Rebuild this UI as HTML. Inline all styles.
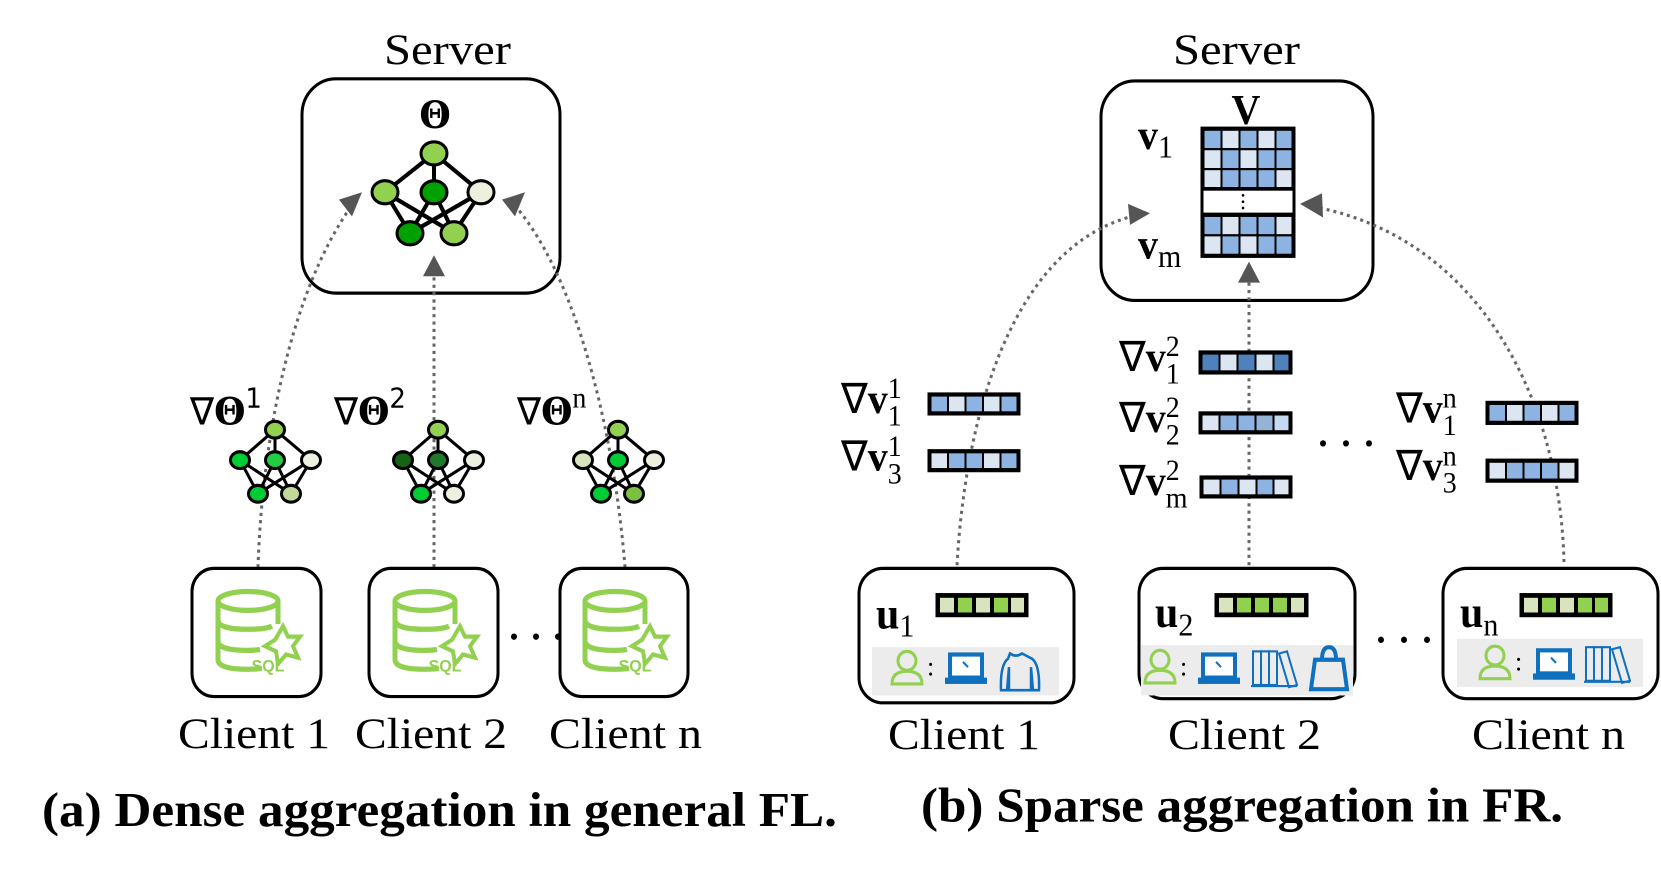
<!DOCTYPE html>
<html><head><meta charset="utf-8"><style>
html,body{margin:0;padding:0;background:#fff;}
svg{display:block}
.t{font-family:"Liberation Serif",serif;}
.m{font-family:"DejaVu Serif",serif;font-weight:bold;}
</style></head><body>
<svg width="1661" height="872" viewBox="0 0 1661 872" xmlns="http://www.w3.org/2000/svg">
<defs>
<g id="snet">
 <g stroke="#000" stroke-width="3" fill="none">
  <line x1="0" y1="-29" x2="-35" y2="0"/><line x1="0" y1="-29" x2="0" y2="0"/><line x1="0" y1="-29" x2="36" y2="0"/>
  <line x1="-35" y1="0" x2="-17" y2="32"/><line x1="-35" y1="0" x2="16" y2="32"/>
  <line x1="0" y1="0" x2="-17" y2="32"/><line x1="0" y1="0" x2="16" y2="32"/>
  <line x1="36" y1="0" x2="-17" y2="32"/><line x1="36" y1="0" x2="16" y2="32"/>
 </g>
</g>
<g id="sql" fill="none" stroke="#92d050" stroke-width="5">
 <ellipse cx="-8" cy="-28" rx="30" ry="9"/>
 <path d="M-38 -28 V28 Q-38 37 -8 37 Q0 37 6 36"/>
 <path d="M22 -28 V-6"/>
 <path d="M-38 -10 Q-38 -1 -8 -1 Q10 -1 16 -4"/>
 <path d="M-38 10 Q-38 19 -8 19 Q0 19 4 18"/>
 <path d="M27 -4 l5 10 12 0 -7 9 5 11 -12 -3 -8 9 -2 -12 -11 -5 10 -6z" stroke-width="4"/>
 <text x="12" y="39" font-family="Liberation Sans,sans-serif" font-weight="bold" font-size="16" fill="#92d050" stroke="none" text-anchor="middle">SQL</text>
</g>
<g id="user" fill="none" stroke="#92d050" stroke-width="3"><circle cx="0" cy="-8" r="9"/><path d="M-15 14 Q-15 2 0 2 Q15 2 15 14 Z"/></g>
<g id="laptop"><rect x="-16" y="-13" width="32" height="22" fill="#fff" stroke="#1070c0" stroke-width="4"/><rect x="-21" y="9" width="42" height="6" fill="#1070c0"/><path d="M-3 -6 l5 5" stroke="#1070c0" stroke-width="2"/></g>
<g id="books" fill="none" stroke="#1070c0" stroke-width="2"><rect x="-20" y="-16" width="8" height="32"/><rect x="-12" y="-16" width="8" height="32"/><rect x="-4" y="-16" width="8" height="32"/><path d="M6 -14 l8 -2 10 32 -8 2z"/><line x1="-22" y1="17" x2="24" y2="17"/></g>
</defs>
<g transform="scale(1,1.0506)">
<!-- ========== LEFT (a) ========== -->
<text x="384" y="61" class="t" font-size="41" textLength="127" lengthAdjust="spacingAndGlyphs">Server</text>
<rect x="302" y="75" width="258" height="204" rx="34" fill="#fff" stroke="#000" stroke-width="3"/>
<text x="435" y="122" class="m" font-size="36" text-anchor="middle">Θ</text>
<g stroke="#000" stroke-width="4">
 <line x1="434" y1="146" x2="385" y2="183"/><line x1="434" y1="146" x2="434" y2="183"/><line x1="434" y1="146" x2="481" y2="183"/>
 <line x1="385" y1="183" x2="410" y2="222"/><line x1="385" y1="183" x2="454" y2="222"/>
 <line x1="434" y1="183" x2="410" y2="222"/><line x1="434" y1="183" x2="454" y2="222"/>
 <line x1="481" y1="183" x2="410" y2="222"/><line x1="481" y1="183" x2="454" y2="222"/>
</g>
<g stroke="#000" stroke-width="3">
 <ellipse cx="434" cy="146" rx="13" ry="11" fill="#92d050"/>
 <ellipse cx="385" cy="183" rx="13" ry="11" fill="#92d050"/>
 <ellipse cx="434" cy="183" rx="13" ry="11" fill="#00a000"/>
 <ellipse cx="481" cy="183" rx="13" ry="11" fill="#ebf1de"/>
 <ellipse cx="410" cy="222" rx="13" ry="11" fill="#00a000"/>
 <ellipse cx="454" cy="222" rx="13" ry="11" fill="#92d050"/>
</g>
<g fill="none" stroke="#666" stroke-width="3" stroke-dasharray="3 4">
 <path d="M258 540 C 262 420, 290 280, 350 198"/>
 <path d="M434 540 V262"/>
 <path d="M625 540 C 615 420, 580 270, 517 198"/>
</g>
<polygon points="339,190 362,183 352,206" fill="#555"/>
<polygon points="434,243 423,263 445,263" fill="#555"/>
<polygon points="525,183 502,190 515,206" fill="#555"/>
<g transform="translate(275,438)"><use href="#snet"/>
 <g stroke="#000" stroke-width="3"><ellipse cx="0" cy="-29" rx="9.5" ry="8" fill="#92d050"/><ellipse cx="-35" cy="0" rx="9.5" ry="8" fill="#00cc33"/><ellipse cx="0" cy="0" rx="9.5" ry="8" fill="#22cc44"/><ellipse cx="36" cy="0" rx="9.5" ry="8" fill="#ebf1de"/><ellipse cx="-17" cy="32" rx="9.5" ry="8" fill="#00cc33"/><ellipse cx="16" cy="32" rx="9.5" ry="8" fill="#c4d79b"/></g></g>
<g transform="translate(438,438)"><use href="#snet"/>
 <g stroke="#000" stroke-width="3"><ellipse cx="0" cy="-29" rx="9.5" ry="8" fill="#92d050"/><ellipse cx="-35" cy="0" rx="9.5" ry="8" fill="#146414"/><ellipse cx="0" cy="0" rx="9.5" ry="8" fill="#1e7a2a"/><ellipse cx="36" cy="0" rx="9.5" ry="8" fill="#ebf1de"/><ellipse cx="-17" cy="32" rx="9.5" ry="8" fill="#00cc33"/><ellipse cx="16" cy="32" rx="9.5" ry="8" fill="#ebf1de"/></g></g>
<g transform="translate(618,438)"><use href="#snet"/>
 <g stroke="#000" stroke-width="3"><ellipse cx="0" cy="-29" rx="9.5" ry="8" fill="#92d050"/><ellipse cx="-35" cy="0" rx="9.5" ry="8" fill="#d7e4bd"/><ellipse cx="0" cy="0" rx="9.5" ry="8" fill="#00cc33"/><ellipse cx="36" cy="0" rx="9.5" ry="8" fill="#ebf1de"/><ellipse cx="-17" cy="32" rx="9.5" ry="8" fill="#00cc33"/><ellipse cx="16" cy="32" rx="9.5" ry="8" fill="#7cc040"/></g></g>
<text x="190" y="404" class="m" font-size="36"><tspan font-weight="normal" font-family="DejaVu Sans">∇</tspan>Θ<tspan dy="-16" font-size="26" font-weight="normal" font-family="DejaVu Sans">1</tspan></text>
<text x="334" y="404" class="m" font-size="36"><tspan font-weight="normal" font-family="DejaVu Sans">∇</tspan>Θ<tspan dy="-16" font-size="26" font-weight="normal" font-family="DejaVu Sans">2</tspan></text>
<text x="517" y="404" class="m" font-size="36"><tspan font-weight="normal" font-family="DejaVu Sans">∇</tspan>Θ<tspan dy="-16" font-size="28" font-weight="normal" font-family="Liberation Serif">n</tspan></text>
<rect x="192" y="541" width="129" height="122" rx="22" fill="#fff" stroke="#000" stroke-width="3"/>
<rect x="369" y="541" width="129" height="122" rx="22" fill="#fff" stroke="#000" stroke-width="3"/>
<rect x="560" y="541" width="128" height="122" rx="22" fill="#fff" stroke="#000" stroke-width="3"/>
<use href="#sql" x="256" y="600"/><use href="#sql" x="433" y="600"/><use href="#sql" x="623" y="600"/>
<g fill="#000"><circle cx="514" cy="606" r="3"/><circle cx="536" cy="606" r="3"/><circle cx="558" cy="606" r="3"/></g>
<g class="t" font-size="41" lengthAdjust="spacingAndGlyphs">
<text x="178" y="712" textLength="152" lengthAdjust="spacingAndGlyphs">Client 1</text>
<text x="355" y="712" textLength="152" lengthAdjust="spacingAndGlyphs">Client 2</text>
<text x="549" y="712" textLength="153" lengthAdjust="spacingAndGlyphs">Client n</text>
</g>
<text x="42" y="786" class="t" font-size="46" font-weight="bold" textLength="795" lengthAdjust="spacingAndGlyphs">(a) Dense aggregation in general FL.</text>

<!-- ========== RIGHT (b) ========== -->
<text x="1173" y="61" class="t" font-size="41" textLength="127" lengthAdjust="spacingAndGlyphs">Server</text>
<rect x="1101" y="77" width="272" height="209" rx="34" fill="#fff" stroke="#000" stroke-width="3"/>
<text x="1246" y="118" class="t" font-size="40" font-weight="bold" text-anchor="middle">V</text>
<text x="1138" y="142" class="t" font-size="40" font-weight="bold">v<tspan dy="8" font-size="30" font-weight="normal">1</tspan></text>
<text x="1138" y="246" class="t" font-size="40" font-weight="bold">v<tspan dy="8" font-size="30" font-weight="normal">m</tspan></text>
<g stroke="#000" stroke-width="3">
 <rect x="1202" y="122" width="92" height="58" fill="#fff"/>
 <rect x="1202" y="180" width="92" height="24" fill="#fff"/>
 <rect x="1202" y="204" width="92" height="40" fill="#fff"/>
</g>
<g stroke="#000" stroke-width="2">
 <rect x="1203.5" y="123.5" width="18" height="18.5" fill="#8db3e2"/><rect x="1221.5" y="123.5" width="18" height="18.5" fill="#dce6f2"/><rect x="1239.5" y="123.5" width="18" height="18.5" fill="#8db3e2"/><rect x="1257.5" y="123.5" width="18" height="18.5" fill="#dce6f2"/><rect x="1275.5" y="123.5" width="17" height="18.5" fill="#8db3e2"/>
 <rect x="1203.5" y="142" width="18" height="19" fill="#dce6f2"/><rect x="1221.5" y="142" width="18" height="19" fill="#8db3e2"/><rect x="1239.5" y="142" width="18" height="19" fill="#dce6f2"/><rect x="1257.5" y="142" width="18" height="19" fill="#8db3e2"/><rect x="1275.5" y="142" width="17" height="19" fill="#8db3e2"/>
 <rect x="1203.5" y="161" width="18" height="18" fill="#dce6f2"/><rect x="1221.5" y="161" width="18" height="18" fill="#8db3e2"/><rect x="1239.5" y="161" width="18" height="18" fill="#8db3e2"/><rect x="1257.5" y="161" width="18" height="18" fill="#8db3e2"/><rect x="1275.5" y="161" width="17" height="18" fill="#dce6f2"/>
 <rect x="1203.5" y="205.5" width="18" height="18.5" fill="#8db3e2"/><rect x="1221.5" y="205.5" width="18" height="18.5" fill="#dce6f2"/><rect x="1239.5" y="205.5" width="18" height="18.5" fill="#8db3e2"/><rect x="1257.5" y="205.5" width="18" height="18.5" fill="#8db3e2"/><rect x="1275.5" y="205.5" width="17" height="18.5" fill="#dce6f2"/>
 <rect x="1203.5" y="224" width="18" height="18.5" fill="#dce6f2"/><rect x="1221.5" y="224" width="18" height="18.5" fill="#8db3e2"/><rect x="1239.5" y="224" width="18" height="18.5" fill="#dce6f2"/><rect x="1257.5" y="224" width="18" height="18.5" fill="#8db3e2"/><rect x="1275.5" y="224" width="17" height="18.5" fill="#8db3e2"/>
</g>
<g fill="#000"><circle cx="1243" cy="186" r="1.3"/><circle cx="1243" cy="192" r="1.3"/><circle cx="1243" cy="198" r="1.3"/></g>
<g fill="none" stroke="#666" stroke-width="3" stroke-dasharray="3 4">
 <path d="M957 538 C 965 400, 1010 240, 1128 207"/>
 <path d="M1249 538 V268"/>
 <path d="M1564 535 C 1560 380, 1480 230, 1320 198"/>
</g>
<polygon points="1150,203 1128,194 1130,214" fill="#555"/>
<polygon points="1249,249 1238,269 1260,269" fill="#555"/>
<polygon points="1300,194 1322,184 1323,207" fill="#555"/>
<g stroke="#000" stroke-width="3">
 <rect x="929" y="375" width="90" height="19" fill="#fff"/>
 <rect x="929" y="429" width="90" height="19" fill="#fff"/>
 <rect x="1200" y="335" width="91" height="20" fill="#fff"/>
 <rect x="1200" y="393" width="91" height="19" fill="#fff"/>
 <rect x="1201" y="454" width="90" height="19" fill="#fff"/>
 <rect x="1487" y="383" width="90" height="20" fill="#fff"/>
 <rect x="1487" y="438" width="90" height="20" fill="#fff"/>
</g>
<g stroke="#000" stroke-width="2">
 <rect x="930.5" y="376.5" width="17.5" height="16" fill="#8db3e2"/><rect x="948" y="376.5" width="17.5" height="16" fill="#dce6f2"/><rect x="965.5" y="376.5" width="17.5" height="16" fill="#8db3e2"/><rect x="983" y="376.5" width="17.5" height="16" fill="#dce6f2"/><rect x="1000.5" y="376.5" width="17" height="16" fill="#8db3e2"/>
 <rect x="930.5" y="430.5" width="17.5" height="16" fill="#dce6f2"/><rect x="948" y="430.5" width="17.5" height="16" fill="#8db3e2"/><rect x="965.5" y="430.5" width="17.5" height="16" fill="#8db3e2"/><rect x="983" y="430.5" width="17.5" height="16" fill="#dce6f2"/><rect x="1000.5" y="430.5" width="17" height="16" fill="#8db3e2"/>
 <rect x="1201.5" y="336.5" width="18" height="17" fill="#4f81bd"/><rect x="1219.5" y="336.5" width="18" height="17" fill="#dce6f2"/><rect x="1237.5" y="336.5" width="18" height="17" fill="#4f81bd"/><rect x="1255.5" y="336.5" width="18" height="17" fill="#dce6f2"/><rect x="1273.5" y="336.5" width="16" height="17" fill="#4f81bd"/>
 <rect x="1201.5" y="394.5" width="18" height="16" fill="#dce6f2"/><rect x="1219.5" y="394.5" width="18" height="16" fill="#8db3e2"/><rect x="1237.5" y="394.5" width="18" height="16" fill="#8db3e2"/><rect x="1255.5" y="394.5" width="18" height="16" fill="#95b3d7"/><rect x="1273.5" y="394.5" width="16" height="16" fill="#c5d9f1"/>
 <rect x="1202.5" y="455.5" width="18" height="16" fill="#dce6f2"/><rect x="1220.5" y="455.5" width="18" height="16" fill="#8db3e2"/><rect x="1238.5" y="455.5" width="18" height="16" fill="#dce6f2"/><rect x="1256.5" y="455.5" width="17" height="16" fill="#8db3e2"/><rect x="1273.5" y="455.5" width="16" height="16" fill="#dce6f2"/>
 <rect x="1488.5" y="384.5" width="17.5" height="17" fill="#8db3e2"/><rect x="1506" y="384.5" width="17.5" height="17" fill="#dce6f2"/><rect x="1523.5" y="384.5" width="17.5" height="17" fill="#8db3e2"/><rect x="1541" y="384.5" width="17.5" height="17" fill="#dce6f2"/><rect x="1558.5" y="384.5" width="17" height="17" fill="#8db3e2"/>
 <rect x="1488.5" y="439.5" width="17.5" height="17" fill="#dce6f2"/><rect x="1506" y="439.5" width="17.5" height="17" fill="#8db3e2"/><rect x="1523.5" y="439.5" width="17.5" height="17" fill="#8db3e2"/><rect x="1541" y="439.5" width="17.5" height="17" fill="#8db3e2"/><rect x="1558.5" y="439.5" width="17" height="17" fill="#dce6f2"/>
</g>
<g class="t" font-size="40">
 <text x="841" y="393"><tspan font-family="DejaVu Sans">∇</tspan><tspan font-weight="bold">v</tspan><tspan font-size="28" dy="-14">1</tspan><tspan font-size="28" dx="-14" dy="26">1</tspan></text>
 <text x="841" y="448"><tspan font-family="DejaVu Sans">∇</tspan><tspan font-weight="bold">v</tspan><tspan font-size="28" dy="-14">1</tspan><tspan font-size="28" dx="-14" dy="26">3</tspan></text>
 <text x="1119" y="353"><tspan font-family="DejaVu Sans">∇</tspan><tspan font-weight="bold">v</tspan><tspan font-size="28" dy="-14">2</tspan><tspan font-size="28" dx="-14" dy="26">1</tspan></text>
 <text x="1119" y="411"><tspan font-family="DejaVu Sans">∇</tspan><tspan font-weight="bold">v</tspan><tspan font-size="28" dy="-14">2</tspan><tspan font-size="28" dx="-14" dy="26">2</tspan></text>
 <text x="1119" y="471"><tspan font-family="DejaVu Sans">∇</tspan><tspan font-weight="bold">v</tspan><tspan font-size="28" dy="-14">2</tspan><tspan font-size="28" dx="-14" dy="26">m</tspan></text>
 <text x="1396" y="402"><tspan font-family="DejaVu Sans">∇</tspan><tspan font-weight="bold">v</tspan><tspan font-size="28" dy="-14">n</tspan><tspan font-size="28" dx="-14" dy="26">1</tspan></text>
 <text x="1396" y="457"><tspan font-family="DejaVu Sans">∇</tspan><tspan font-weight="bold">v</tspan><tspan font-size="28" dy="-14">n</tspan><tspan font-size="28" dx="-14" dy="26">3</tspan></text>
</g>
<g fill="#000"><circle cx="1323" cy="422" r="3"/><circle cx="1346" cy="422" r="3"/><circle cx="1369" cy="422" r="3"/>
<circle cx="1381" cy="609" r="3"/><circle cx="1404" cy="609" r="3"/><circle cx="1427" cy="609" r="3"/></g>
<rect x="859" y="541" width="215" height="128" rx="24" fill="#fff" stroke="#000" stroke-width="3"/>
<rect x="1139" y="541" width="216" height="124" rx="24" fill="#fff" stroke="#000" stroke-width="3"/>
<rect x="1443" y="541" width="215" height="124" rx="24" fill="#fff" stroke="#000" stroke-width="3"/>
<rect x="872" y="616" width="187" height="46" fill="#ececec"/>
<rect x="1141" y="614" width="212" height="48" fill="#ececec"/>
<rect x="1457" y="608" width="186" height="46" fill="#ececec"/>
<g class="t" font-size="42" font-weight="bold">
 <text x="876" y="598">u<tspan font-size="30" font-weight="normal" dy="8">1</tspan></text>
 <text x="1155" y="597">u<tspan font-size="30" font-weight="normal" dy="8">2</tspan></text>
 <text x="1460" y="597">u<tspan font-size="30" font-weight="normal" dy="8">n</tspan></text>
</g>
<g stroke="#000" stroke-width="3">
 <rect x="937" y="566" width="90" height="20" fill="#000"/>
 <rect x="1216" y="566" width="91" height="20" fill="#000"/>
 <rect x="1521" y="566" width="90" height="20" fill="#000"/>
</g>
<g>
 <rect x="940" y="569" width="14" height="14" fill="#d7e4bd"/><rect x="958" y="569" width="14" height="14" fill="#92d050"/><rect x="976" y="569" width="14" height="14" fill="#d7e4bd"/><rect x="994" y="569" width="14" height="14" fill="#92d050"/><rect x="1011" y="569" width="13" height="14" fill="#d7e4bd"/>
 <rect x="1219" y="569" width="14" height="14" fill="#d7e4bd"/><rect x="1237" y="569" width="14" height="14" fill="#92d050"/><rect x="1255" y="569" width="14" height="14" fill="#92d050"/><rect x="1273" y="569" width="14" height="14" fill="#92d050"/><rect x="1291" y="569" width="13" height="14" fill="#d7e4bd"/>
 <rect x="1524" y="569" width="14" height="14" fill="#d7e4bd"/><rect x="1542" y="569" width="14" height="14" fill="#92d050"/><rect x="1560" y="569" width="14" height="14" fill="#d7e4bd"/><rect x="1578" y="569" width="14" height="14" fill="#92d050"/><rect x="1595" y="569" width="13" height="14" fill="#92d050"/>
</g>
<use href="#user" x="907" y="637"/><text x="927" y="643" class="t" font-size="26">:</text><use href="#laptop" x="966" y="636"/>
<path d="M1010 622 q6 4 12 0 l10 5 q8 6 7 30 h-6 l-2 -22 v22 h-22 v-22 l-2 22 h-6 q-1 -24 7 -30z" fill="none" stroke="#1070c0" stroke-width="2.5"/>
<use href="#user" x="1160" y="636"/><text x="1180" y="643" class="t" font-size="26">:</text><use href="#laptop" x="1219" y="636"/><use href="#books" x="1273" y="636"/>
<path d="M1311 656 l4 -28 h28 l4 28z M1322 628 q0 -12 7 -12 q7 0 7 12" fill="none" stroke="#1070c0" stroke-width="4"/>
<use href="#user" x="1495" y="632"/><text x="1515" y="638" class="t" font-size="26">:</text><use href="#laptop" x="1554" y="632"/><use href="#books" x="1606" y="632"/>
<text x="888" y="713" class="t" font-size="41" textLength="152" lengthAdjust="spacingAndGlyphs">Client 1</text>
<text x="1168" y="713" class="t" font-size="41" textLength="153" lengthAdjust="spacingAndGlyphs">Client 2</text>
<text x="1472" y="713" class="t" font-size="41" textLength="153" lengthAdjust="spacingAndGlyphs">Client n</text>
<text x="921" y="782" class="t" font-size="46" font-weight="bold" textLength="642" lengthAdjust="spacingAndGlyphs">(b) Sparse aggregation in FR.</text>
</g>
</svg>
</body></html>
